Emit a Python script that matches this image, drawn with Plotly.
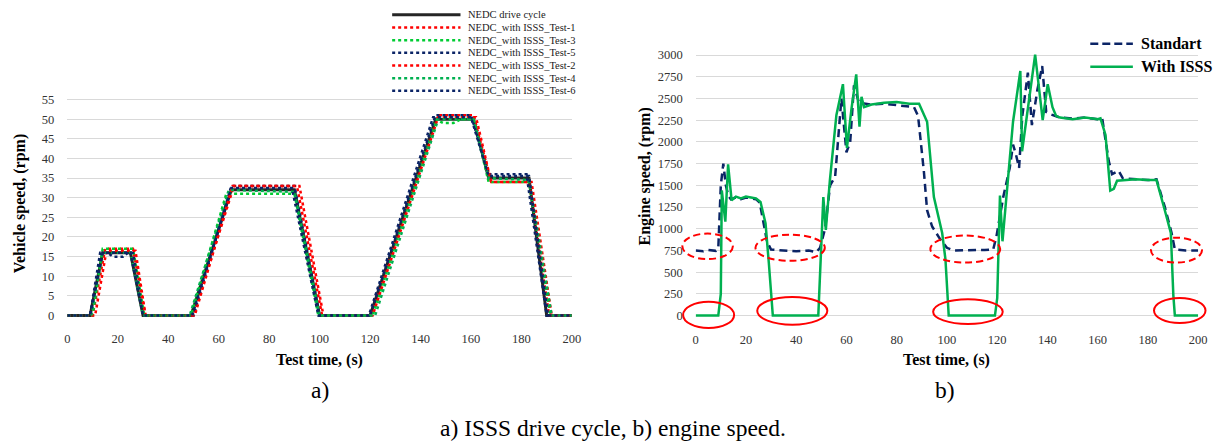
import plotly.graph_objects as go

W, H = 1230, 441
FONT = "Liberation Serif, Times New Roman, serif"

# ---------------- data: a) vehicle speed ----------------
nedc_t = [0, 9, 14, 25, 30, 49, 65, 90, 100, 120, 146, 161, 167, 183, 190, 200]
nedc_v = [0, 0, 16, 16, 0, 0, 32, 32, 0, 0, 50, 50, 35, 35, 0, 0]

test1_t = [0, 10, 15, 26, 31, 50, 66, 91, 101, 120, 147, 161, 168, 183, 191, 200]
test1_v = [0, 0, 17, 17, 0, 0, 33, 33, 0, 0, 51, 51, 34, 34, 0, 0]
test3_t = [0, 10, 14, 26, 30.5, 49, 63, 90, 99.5, 121, 146, 149, 153, 156, 161, 167, 183, 191.5, 200]
test3_v = [0, 0, 17, 17, 0, 0, 31, 31, 0, 0, 50, 49, 49, 50, 50, 34, 34, 0, 0]
test5_t = [0, 9, 13, 16, 18, 22, 24, 26, 30, 50, 65, 90, 100, 120, 146, 160, 167, 182, 190, 200]
test5_v = [0, 0, 16, 16, 15, 15, 16, 16, 0, 0, 33, 33, 0, 0, 51, 51, 36, 36, 0, 0]
test2_t = [0, 11, 15.5, 27, 31, 50.5, 65.5, 92, 101.5, 121, 147, 162, 168, 184, 192, 200]
test2_v = [0, 0, 16.5, 16.5, 0, 0, 33, 33, 0, 0, 50.5, 50.5, 34, 34, 0, 0]
test4_t = [0, 9.5, 14, 25, 30, 48.5, 64, 90, 100, 122, 147, 161, 167, 183, 192, 200]
test4_v = [0, 0, 16, 16, 0, 0, 32, 31.5, 0, 0, 50, 50, 35, 34.5, 0, 0]
test6_t = [0, 9, 14, 25, 30, 49.5, 65, 89, 99.5, 119.5, 145, 160, 167, 183, 190.5, 200]
test6_v = [0, 0, 16, 16, 0, 0, 32.5, 32.5, 0, 0, 50.5, 50.5, 35.5, 35.5, 0, 0]

speed_names = ["NEDC drive cycle", "NEDC_with ISSS_Test-1", "NEDC_with ISSS_Test-3",
               "NEDC_with ISSS_Test-5", "NEDC_with ISSS_Test-2", "NEDC_with ISSS_Test-4",
               "NEDC_with ISSS_Test-6"]
speed_x = [nedc_t, test1_t, test3_t, test5_t, test2_t, test4_t, test6_t]
speed_y = [nedc_v, test1_v, test3_v, test5_v, test2_v, test4_v, test6_v]

# ---------------- data: b) engine speed ----------------
std_t = [0, 3, 5, 8, 9, 10, 11, 12, 13, 14, 16, 18, 20, 22, 24, 25.5, 27, 28.4, 30, 35, 40, 45, 48,
         49.5, 51.5, 53.5, 55.5, 58, 60, 61.5, 63, 65, 70, 75, 80, 86.9, 88.5, 90.8, 92.1, 94.1,
         97.4, 100, 102.7, 110, 115, 118.4, 119.7, 122.4, 125, 126.3, 127.5, 128.7, 130, 132.2,
         133.8, 136, 137.9, 139.5, 141, 145, 150, 155, 160, 161.8, 164.4, 165.7, 168.3, 170, 175,
         180, 183.4, 186.7, 189.4, 190.7, 195, 200]
std_v = [750, 740, 755, 745, 770, 1500, 1750, 1500, 1380, 1340, 1360, 1340, 1360, 1350, 1340, 1300,
         1050, 850, 760, 750, 740, 750, 730, 780, 1000, 1500, 1600, 2500, 1880, 2000, 2650, 2450,
         2430, 2440, 2420, 2400, 2300, 1665, 1213, 1025, 875, 780, 750, 750, 755, 760, 912, 1364,
         1703, 1968, 1850, 1700, 2300, 2797, 2194, 2600, 2873, 2345, 2320, 2280, 2270, 2280, 2260,
         2269, 1779, 1629, 1668, 1580, 1570, 1560, 1570, 1251, 950, 761, 750, 750]

isss_t = [0, 9, 10, 10.4, 11.8, 12.9, 14.3, 16, 18, 20, 22, 24, 25.8, 27.8, 29.1, 30.7, 48.8, 49.8,
          50.8, 51.8, 53.4, 56, 58.6, 60.2, 62, 63.9, 65.2, 66, 67, 70, 75, 80, 85, 88.9, 92.1,
          94.8, 98.1, 99.4, 100.7, 119.1, 120, 121.1, 122.1, 126.3, 129.2, 129.9, 135.1, 138.1,
          140.1, 142, 143.4, 145, 150, 155, 160, 161.1, 163.1, 165, 166.4, 167.7, 170, 175, 180,
          183.4, 186.7, 189.1, 190.1, 190.7, 200]
isss_v = [0, 0, 250, 1440, 1081, 1741, 1327, 1370, 1350, 1370, 1360, 1350, 1307, 1063, 611, 0, 0,
          611, 1364, 987, 1553, 2307, 2665, 1930, 2380, 2778, 2175, 2520, 2400, 2430, 2450, 2460,
          2440, 2440, 2232, 1364, 950, 648, 0, 0, 200, 1383, 855, 2232, 2816, 1892, 3004, 2250,
          2665, 2400, 2300, 2280, 2260, 2280, 2260, 2270, 2080, 1440, 1460, 1553, 1560, 1570, 1560,
          1560, 1213, 950, 233, 0, 0]

engine_names = ["Standart", "With ISSS"]

# highlighted idle zones (t0, t1, rpm0, rpm1)
idle_zones = [(-5.3, 14.8, 650, 944), (23.8, 51.4, 630, 932), (93.4, 121.2, 610, 921), (181.2, 201.5, 610, 896)]
stop_zones = [(-5.0, 15.3, -144, 158), (24.5, 52.4, -106, 215), (94.5, 122.2, -98, 188), (182.4, 202.9, -87, 203)]

# ---------------- styles ----------------
speed_colors = ["#262626", "#FF0000", "#00CC33", "#0B2466", "#FF0000", "#00B050", "#0B2466"]
speed_dash = ["solid", "dot", "dot", "dot", "dot", "dot", "dot"]
speed_width = [3, 2.5, 2.5, 2.5, 2.5, 2.5, 2.5]
NAVY = "#0B2466"
GREEN = "#00B050"
RED = "#FF0000"


def h_domain(p0, p1, v0, v1, r0, r1):
    k = (p1 - p0) / (v1 - v0)
    return [(p0 + (r0 - v0) * k) / W, (p0 + (r1 - v0) * k) / W]


def v_domain(p0, p1, v0, v1, r0, r1):
    k = (p0 - p1) / (v1 - v0)
    return [1 - (p0 - (r0 - v0) * k) / H, 1 - (p0 - (r1 - v0) * k) / H]


def to_paper(v, rng, dom):
    return dom[0] + (v - rng[0]) / (rng[1] - rng[0]) * (dom[1] - dom[0])


x1_rng, y1_rng = [0, 200], [-0.8, 55.6]
x2_rng, y2_rng = [0, 200], [-45, 3040]
x1_dom = h_domain(65, 574.5, 0, 200, *x1_rng)
y1_dom = v_domain(317.3, 97.3, 0, 55, *y1_rng)
x2_dom = h_domain(699.5, 1207, 0, 200, *x2_rng)
y2_dom = v_domain(317.3, 52, 0, 3000, *y2_rng)

fig = go.Figure()

for name, xs, ys, c, d, w in zip(speed_names, speed_x, speed_y, speed_colors, speed_dash, speed_width):
    fig.add_trace(go.Scatter(x=xs, y=ys, mode="lines", name=name, xaxis="x", yaxis="y",
                             line=dict(color=c, dash=d, width=w), showlegend=False))

fig.add_trace(go.Scatter(x=std_t, y=std_v, mode="lines", name=engine_names[0], xaxis="x2", yaxis="y2",
                         line=dict(color=NAVY, dash="8px,5px", width=2.5), showlegend=False))
fig.add_trace(go.Scatter(x=isss_t, y=isss_v, mode="lines", name=engine_names[1], xaxis="x2", yaxis="y2",
                         line=dict(color=GREEN, width=2.5), showlegend=False))

shapes = []
for (t0, t1, v0, v1) in idle_zones:
    shapes.append(dict(type="circle", xref="paper", yref="paper",
                       x0=to_paper(t0, x2_rng, x2_dom), x1=to_paper(t1, x2_rng, x2_dom),
                       y0=to_paper(v0, y2_rng, y2_dom), y1=to_paper(v1, y2_rng, y2_dom),
                       line=dict(color=RED, width=2, dash="7px,4px")))
for (t0, t1, v0, v1) in stop_zones:
    shapes.append(dict(type="circle", xref="paper", yref="paper",
                       x0=to_paper(t0, x2_rng, x2_dom), x1=to_paper(t1, x2_rng, x2_dom),
                       y0=to_paper(v0, y2_rng, y2_dom), y1=to_paper(v1, y2_rng, y2_dom),
                       line=dict(color=RED, width=2)))

annotations = []

# custom legend for chart a)
for i, (name, c, d, w) in enumerate(zip(speed_names, speed_colors, speed_dash, speed_width)):
    py = 11 + i * 12.9
    shapes.append(dict(type="line", xref="paper", yref="paper", x0=393 / W, x1=462 / W,
                       y0=1 - py / H, y1=1 - py / H,
                       line=dict(color=c, width=w, dash=d)))
    annotations.append(dict(text=name, xref="paper", yref="paper", x=468 / W, y=1 - py / H,
                            xanchor="left", yanchor="middle", showarrow=False,
                            font=dict(family=FONT, size=10.5, color="#1a1a1a")))

# custom legend for chart b)
leg2 = [(engine_names[0], NAVY, "8px,4px", 40.5), (engine_names[1], GREEN, "solid", 64)]
for name, c, d, py in leg2:
    shapes.append(dict(type="line", xref="paper", yref="paper", x0=1098 / W, x1=1141 / W,
                       y0=1 - py / H, y1=1 - py / H, line=dict(color=c, width=2.5, dash=d)))
    annotations.append(dict(text=name, xref="paper", yref="paper", x=1147 / W, y=1 - py / H,
                            xanchor="left", yanchor="middle", showarrow=False,
                            font=dict(family=FONT, size=16, color="black", weight="bold")))


def label(text, px, py, size, bold=False, angle=0):
    annotations.append(dict(text=text, xref="paper", yref="paper", x=px / W, y=1 - py / H,
                            xanchor="center", yanchor="middle", showarrow=False, textangle=angle,
                            font=dict(family=FONT, size=size, color="black",
                                      weight="bold" if bold else "normal")))


label("Vehicle speed, (rpm)", 17, 203, 16, True, -90)
label("Engine speed, (rpm)", 648, 176, 16, True, -90)
label("Test time, (s)", 320, 363, 16, True)
label("Test time, (s)", 953, 363, 16, True)
label("a)", 320, 393, 23.5)
label("b)", 951, 393, 23.5)
label("a) ISSS drive cycle, b) engine speed.", 616, 432, 23.5)

tickfont = dict(family=FONT, size=12.5, color="#333333")
xcommon = dict(showgrid=False, zeroline=False, showline=False, ticks="", tick0=0, dtick=20,
               tickfont=tickfont, fixedrange=True, ticklabelstandoff=11)
ycommon = dict(showgrid=True, gridcolor="#D9D9D9", gridwidth=1, zeroline=False, showline=False,
               ticks="", tickfont=tickfont, fixedrange=True, ticklabelstandoff=12)

fig.update_layout(
    width=W, height=H, margin=dict(l=0, r=0, t=0, b=0),
    paper_bgcolor="white", plot_bgcolor="white", showlegend=False,
    xaxis=dict(domain=x1_dom, range=x1_rng, anchor="y", **xcommon),
    yaxis=dict(domain=y1_dom, range=y1_rng, anchor="x", tick0=0, dtick=5, **ycommon),
    xaxis2=dict(domain=x2_dom, range=x2_rng, anchor="y2", **xcommon),
    yaxis2=dict(domain=y2_dom, range=y2_rng, anchor="x2", tick0=0, dtick=250, **ycommon),
    shapes=shapes, annotations=annotations,
)

fig.write_html("out.html")
